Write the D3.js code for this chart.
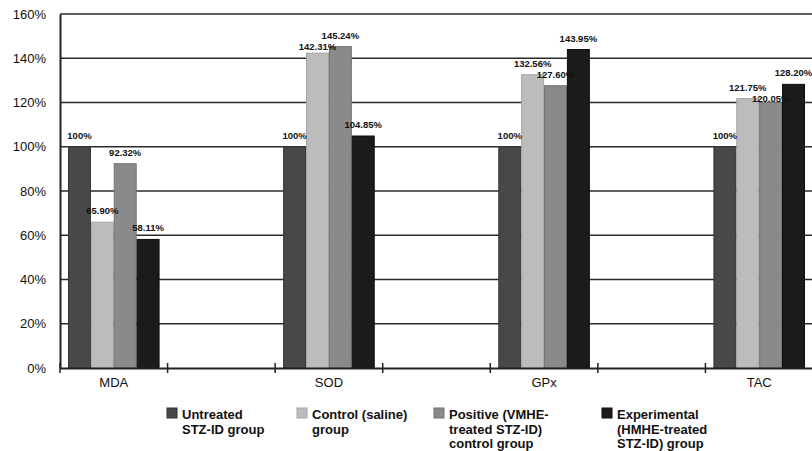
<!DOCTYPE html>
<html>
<head>
<meta charset="utf-8">
<script src="https://cdn.jsdelivr.net/npm/d3@7"></script>
<style>
  html, body { margin: 0; padding: 0; background: #fff; }
  svg { display: block; }
</style>
</head>
<body>
<svg id="chart" width="812" height="451"></svg>
<script>
// ---- data ----
const categories = ["MDA", "", "SOD", "", "GPx", "", "TAC"];
const seriesNames = [
  ["Untreated", "STZ-ID group"],
  ["Control (saline)", "group"],
  ["Positive (VMHE-", "treated STZ-ID)", "control group"],
  ["Experimental", "(HMHE-treated", "STZ-ID) group"]
];
const untreated    = [100, null, 100, null, 100, null, 100];
const control      = [65.90, null, 142.31, null, 132.56, null, 121.75];
const positive     = [92.32, null, 145.24, null, 127.60, null, 120.05];
const experimental = [58.11, null, 104.85, null, 143.95, null, 128.20];
const yTicks = [0, 20, 40, 60, 80, 100, 120, 140, 160];

const seriesValues = [untreated, control, positive, experimental];
const colors = ["#484848", "#bcbcbc", "#8a8a8a", "#1b1b1b"];
const strokes = ["#333333", "#a4a4a4", "#727272", "#0c0c0c"];

// ---- layout ----
const svg = d3.select("#chart");
const mLeft = 60, mRight = 813, mTop = 14, mBottom = 368;

const x0 = d3.scaleBand().domain(d3.range(categories.length)).range([mLeft, mRight]).paddingInner(0).paddingOuter(0);
const groupPad = 8.5;
const x1 = d3.scaleBand().domain(d3.range(4)).range([0, x0.bandwidth() - 2 * groupPad]).paddingInner(0.04);
const y = d3.scaleLinear().domain([0, 160]).range([mBottom, mTop]);

// gridlines
svg.append("g").selectAll("line").data(yTicks.filter(t => t > 0)).join("line")
  .attr("x1", mLeft).attr("x2", 812)
  .attr("y1", d => y(d)).attr("y2", d => y(d))
  .attr("stroke", "#2b2b2b").attr("stroke-width", 1.7);

// y axis
const yAxis = d3.axisLeft(y).tickValues(yTicks).tickFormat(d => d + "%").tickSize(0).tickPadding(14);
const gy = svg.append("g").attr("transform", `translate(${mLeft},0)`).call(yAxis);
gy.select(".domain").attr("stroke", "#222").attr("stroke-width", 2);
gy.selectAll("text").attr("font-family", "'Liberation Sans', Arial, sans-serif").attr("font-size", 13).attr("fill", "#111");

// bars
const flat = [];
categories.forEach((c, i) => {
  seriesValues.forEach((s, k) => {
    if (s[i] != null) flat.push({ i, k, v: s[i] });
  });
});

svg.append("g").selectAll("rect").data(flat).join("rect")
  .attr("x", d => x0(d.i) + groupPad + x1(d.k))
  .attr("y", d => y(d.v))
  .attr("width", x1.bandwidth())
  .attr("height", d => y(0) - y(d.v))
  .attr("fill", d => colors[d.k])
  .attr("stroke", d => strokes[d.k])
  .attr("stroke-width", 1);

// data labels (outside end, pushed down when they collide)
const labels = svg.append("g").selectAll("text").data(flat).join("text")
  .attr("x", d => x0(d.i) + groupPad + x1(d.k) + x1.bandwidth() / 2)
  .attr("y", d => y(d.v) - 8)
  .attr("text-anchor", "middle")
  .attr("font-family", "'Liberation Sans', Arial, sans-serif")
  .attr("font-weight", "bold")
  .attr("font-size", 9.5)
  .attr("fill", "#111")
  .text(d => d.v === 100 ? "100%" : d.v.toFixed(2) + "%");

const nodes = labels.nodes().map(n => ({ n, b: n.getBBox() }))
  .sort((a, b) => a.b.y - b.b.y);
const placed = [];
nodes.forEach(o => {
  let b = { x: o.b.x, y: o.b.y, w: o.b.width, h: o.b.height };
  let shift = 0;
  let moved = true;
  while (moved) {
    moved = false;
    for (const p of placed) {
      const hx = b.x < p.x + p.w + 1 && p.x < b.x + b.w + 1;
      const hy = b.y + shift < p.y + p.h && p.y < b.y + shift + b.h;
      if (hx && hy) { shift = p.y + p.h - b.y + 0.5; moved = true; }
    }
  }
  if (shift) o.n.setAttribute("y", +o.n.getAttribute("y") + shift);
  placed.push({ x: b.x, y: b.y + shift, w: b.w, h: b.h });
});

// x axis
const xAxis = d3.axisBottom(x0).tickSize(0).tickFormat(i => categories[i]).tickPadding(10);
const gx = svg.append("g").attr("transform", `translate(0,${mBottom})`).call(xAxis);
gx.select(".domain").attr("stroke", "#222").attr("stroke-width", 2);
gx.selectAll("text").attr("font-family", "'Liberation Sans', Arial, sans-serif").attr("font-size", 13).attr("fill", "#111");

// x tick marks at band boundaries
const bounds = d3.range(categories.length + 1).map(i => mLeft + i * x0.step());
svg.append("g").selectAll("line").data(bounds).join("line")
  .attr("x1", d => d).attr("x2", d => d)
  .attr("y1", mBottom - 5).attr("y2", mBottom + 5)
  .attr("stroke", "#222").attr("stroke-width", 1.5);

// legend
const legendX = [167, 297, 434, 602];
const lg = svg.append("g");
seriesNames.forEach((lines, k) => {
  const g = lg.append("g").attr("transform", `translate(${legendX[k]},408)`);
  g.append("rect").attr("x", 0).attr("y", 0).attr("width", 10).attr("height", 10)
    .attr("fill", colors[k]).attr("stroke", strokes[k]);
  const t = g.append("text")
    .attr("font-family", "'Liberation Sans', Arial, sans-serif")
    .attr("font-weight", "bold").attr("font-size", 13).attr("fill", "#111");
  lines.forEach((ln, j) => {
    t.append("tspan").attr("x", 15).attr("y", 11 + j * 14.5).text(ln);
  });
});
</script>
</body>
</html>
